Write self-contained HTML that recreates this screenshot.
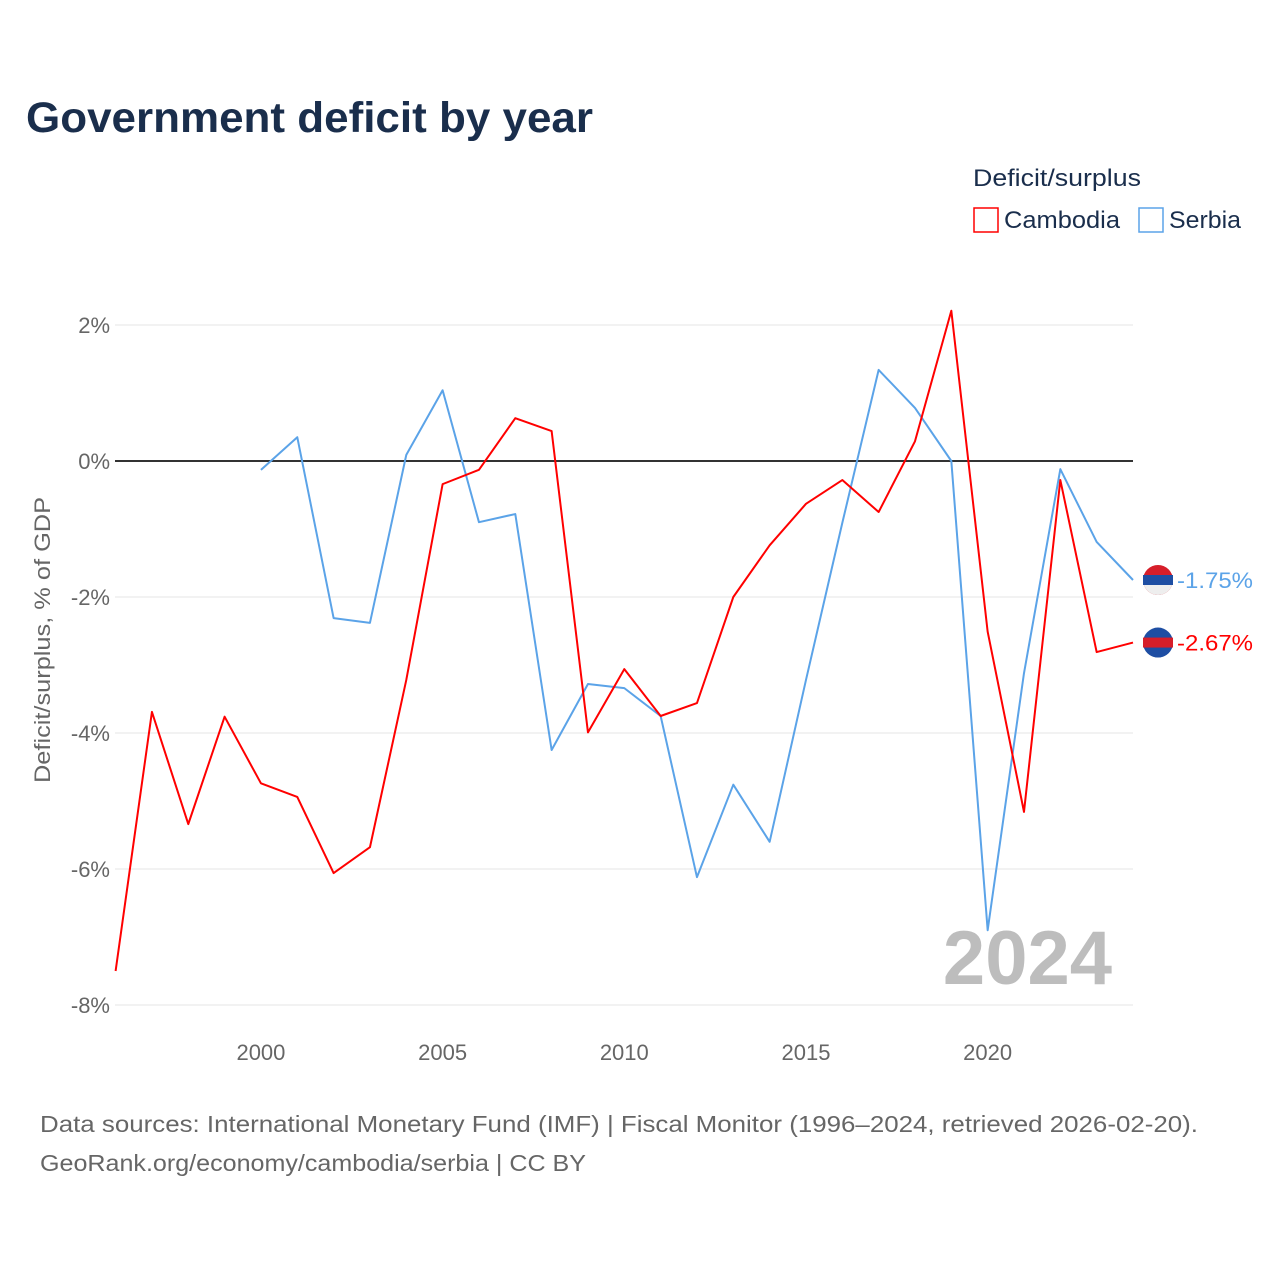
<!DOCTYPE html>
<html><head><meta charset="utf-8"><style>
body{margin:0;background:#fff;font-family:"Liberation Sans",sans-serif}
svg text{font-family:"Liberation Sans",sans-serif}
</style></head><body>
<svg id="chart" width="1280" height="1280" viewBox="0 0 1280 1280" xmlns="http://www.w3.org/2000/svg">
<rect width="1280" height="1280" fill="#fff"/>
<text x="26" y="132" font-size="43" font-weight="bold" fill="#1a2e4c" textLength="567" lengthAdjust="spacingAndGlyphs">Government deficit by year</text>
<text x="973" y="186" font-size="24" fill="#1a2e4c" textLength="168" lengthAdjust="spacingAndGlyphs">Deficit/surplus</text>
<rect x="974" y="208" width="24" height="24" fill="none" stroke="#ff0000" stroke-width="1.5"/>
<text x="1004" y="228" font-size="24" fill="#1a2e4c" textLength="116" lengthAdjust="spacingAndGlyphs">Cambodia</text>
<rect x="1139" y="208" width="24" height="24" fill="none" stroke="#5ba3e8" stroke-width="1.5"/>
<text x="1169" y="228" font-size="24" fill="#1a2e4c" textLength="72" lengthAdjust="spacingAndGlyphs">Serbia</text>
<text transform="translate(50,640) rotate(-90)" text-anchor="middle" font-size="22" fill="#666" textLength="286" lengthAdjust="spacingAndGlyphs">Deficit/surplus, % of GDP</text>
<g id="grid"></g><g id="series"></g>
<text x="1112" y="984" text-anchor="end" font-size="76" font-weight="bold" fill="#bdbdbd">2024</text>
<text x="40" y="1132" font-size="23" fill="#666" textLength="1158" lengthAdjust="spacingAndGlyphs">Data sources: International Monetary Fund (IMF) | Fiscal Monitor (1996–2024, retrieved 2026-02-20).</text>
<text x="40" y="1171" font-size="23" fill="#666" textLength="546" lengthAdjust="spacingAndGlyphs">GeoRank.org/economy/cambodia/serbia | CC BY</text>
</svg>
<script>
const years=[1996,1997,1998,1999,2000,2001,2002,2003,2004,2005,2006,2007,2008,2009,2010,2011,2012,2013,2014,2015,2016,2017,2018,2019,2020,2021,2022,2023,2024];
const cambodia=[-7.5,-3.69,-5.34,-3.76,-4.74,-4.94,-6.06,-5.68,-3.22,-0.34,-0.13,0.63,0.44,-3.99,-3.06,-3.75,-3.56,-2.0,-1.24,-0.63,-0.28,-0.75,0.29,2.21,-2.51,-5.16,-0.28,-2.81,-2.67];
const serbiaYears=[2000,2001,2002,2003,2004,2005,2006,2007,2008,2009,2010,2011,2012,2013,2014,2015,2016,2017,2018,2019,2020,2021,2022,2023,2024];
const serbia=[-0.13,0.35,-2.31,-2.38,0.09,1.04,-0.9,-0.78,-4.25,-3.28,-3.34,-3.75,-6.12,-4.76,-5.6,-3.22,-0.91,1.34,0.78,0.0,-6.9,-3.12,-0.12,-1.19,-1.75];
const yTicks=[2,0,-2,-4,-6,-8];
const xTicks=[2000,2005,2010,2015,2020];
const X=y=>115.6+(y-1996)*(1133-115.6)/28;
const Y=v=>461-v*68;
const NS="http://www.w3.org/2000/svg";
function mk(t,a,p){const e=document.createElementNS(NS,t);for(const k in a)e.setAttribute(k,a[k]);p.appendChild(e);return e;}
const g=document.getElementById('grid'),s=document.getElementById('series');
yTicks.forEach(v=>{
 const l=mk('line',{x1:115,x2:1133,y1:Y(v),y2:Y(v),stroke:v===0?'#333':'#e6e6e6','stroke-width':v===0?2:1},g);
 
 
 const t=mk('text',{x:110,y:Y(v)+8,'text-anchor':'end','font-size':22,fill:'#666'},g);
 t.textContent=v+'%';
 
 
});
xTicks.forEach(y=>{
 const t=mk('text',{x:X(y),y:1060,'text-anchor':'middle','font-size':22,fill:'#666'},g);
 t.textContent=y;
 
 
});
function line(xs,vs,c,name){
 const p=mk('polyline',{points:xs.map((y,i)=>X(y)+','+Y(vs[i])).join(' '),fill:'none',stroke:c,'stroke-width':2,'stroke-linejoin':'round'},s);
 
 
}
line(serbiaYears,serbia,'#5ba3e8','serbia-line');
line(years,cambodia,'#ff0000','cambodia-line');
function end(v,c,name,top,bot){
 const cx=1158,cy=Y(v);
 const gg=mk('g',{},s);
 
 
 mk('circle',{cx:cx,cy:cy,r:15,fill:top},gg);
 mk('path',{d:`M${cx-15} ${cy} A15 15 0 0 0 ${cx+15} ${cy} Z`,fill:bot},gg);
 mk('rect',{x:cx-15,y:cy-5,width:30,height:10,fill:name==='cambodia'?'#d61e2a':'#1e4ea3'},gg);
 const t=mk('text',{x:1177,y:cy+8,'font-size':22,fill:c,textLength:76,lengthAdjust:'spacingAndGlyphs'},s);
 t.textContent=v.toFixed(2)+'%';
 
 
}
end(serbia[serbia.length-1],'#5ba3e8','serbia','#d61e2a','#eee');
end(cambodia[cambodia.length-1],'#ff0000','cambodia','#1e4ea3','#1e4ea3');
</script>
</body></html>
